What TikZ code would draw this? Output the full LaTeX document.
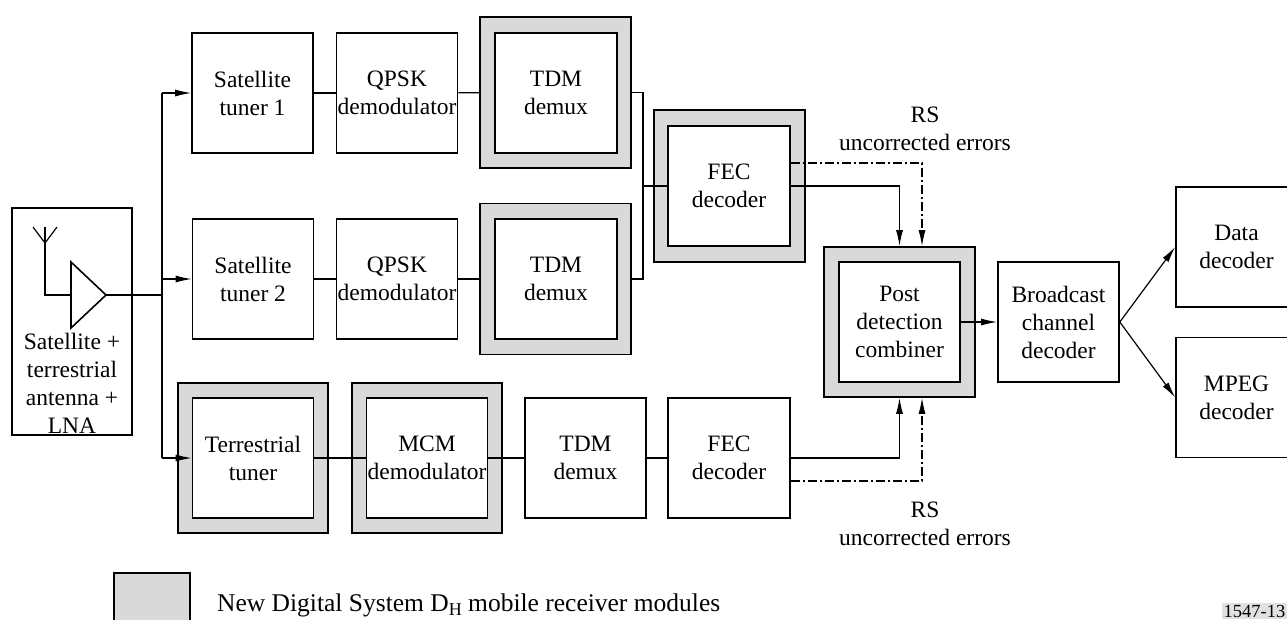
\documentclass[tikz,border=0pt]{standalone}
\usepackage{fontspec}
\setmainfont{Liberation Serif}
\usetikzlibrary{arrows.meta,calc}
\definecolor{modgray}{RGB}{217,217,217}
\definecolor{stampgray}{RGB}{225,225,225}
\tikzset{
  blk/.style={draw, line width=1.6pt, fill=white, minimum width=121pt, minimum height=120pt,
              inner sep=0pt, align=center, font=\fontsize{23.5}{28}\selectfont},
  modframe/.style={draw, line width=1.6pt, fill=modgray, minimum width=151pt, minimum height=151pt, inner sep=0pt},
  wire/.style={line width=1.2pt},
  tip/.style={-{Latex[length=16pt,width=7pt]}},
  arr/.style={wire, tip},
  dashdot/.style={wire, tip, dash pattern=on 9pt off 3pt on 2pt off 3pt},
  lbl/.style={align=center, font=\fontsize{23.5}{28}\selectfont, inner sep=0pt},
}
\begin{document}
\begin{tikzpicture}[x=1pt,y=-1pt]
\useasboundingbox (0,0) rectangle (1287,619);
\clip (0,0) rectangle (1287,619);

% antenna + LNA block
\node[draw, line width=1.6pt, minimum width=120pt, minimum height=227pt, inner sep=0pt] (lna) at (72,321.5) {};
\node[lbl] (lnatxt) at (72,383) {Satellite +\\terrestrial\\antenna +\\LNA};
\coordinate (antL) at (33,227);
\coordinate (antR) at (57,227);
\coordinate (antTop) at (45,227);
\coordinate (antJ) at (45,243);
\coordinate (antFoot) at (45,295);
\coordinate (ampIn) at (71,295);
\coordinate (ampOut) at (106,295);
\draw[wire] (antL) -- (antJ) -- (antR);
\draw[wire] (antTop) -- (antFoot) -- (ampIn);
\draw[line width=1.6pt, line join=miter] (71,262) -- (ampOut) -- (71,328) -- cycle;

% satellite branch 1
\node[blk] (st1) at (252.5,93) {Satellite\\tuner 1};
\node[blk] (qp1) at (397,93) {QPSK\\demodulator};
\node[modframe] (td1o) at (555.5,92.5) {};
\node[blk, minimum width=122pt] (td1) at (556,93) {TDM\\demux};

% satellite branch 2
\node[blk] (st2) at (253,279) {Satellite\\tuner 2};
\node[blk] (qp2) at (397,279) {QPSK\\demodulator};
\node[modframe] (td2o) at (555.5,279) {};
\node[blk, minimum width=122pt] (td2) at (556,279) {TDM\\demux};

% terrestrial branch
\node[modframe, minimum width=150pt, minimum height=150pt] (tto) at (253,458) {};
\node[blk] (tt) at (253,458) {Terrestrial\\tuner};
\node[modframe, minimum width=150pt, minimum height=150pt] (mcmo) at (427,458) {};
\node[blk] (mcm) at (427,458) {MCM\\demodulator};
\node[blk] (td3) at (585.5,458) {TDM\\demux};
\node[blk, minimum width=122pt] (fec2) at (729,458) {FEC\\decoder};

% satellite FEC decoder
\node[modframe, minimum height=152pt] (fec1o) at (729.5,186) {};
\node[blk, minimum width=122pt] (fec1) at (729,186) {FEC\\decoder};

% combiner and back end
\node[modframe, minimum height=150pt] (pdo) at (899.5,322) {};
\node[blk] (pd) at (899.5,322) {Post\\detection\\combiner};
\node[blk] (bcd) at (1058.5,322) {Broadcast\\channel\\decoder};
\node[blk] (data) at (1236.5,247) {Data\\decoder};
\node[blk] (mpeg) at (1236.5,397.5) {MPEG\\decoder};

% RF distribution bus
\coordinate (busT) at (162,93);
\coordinate (busM) at (162,279);
\coordinate (busA) at (162,295);
\coordinate (busB) at (162,458);
\draw[wire] (ampOut) -- (busA);
\draw[wire] (busT) -- (busB);
\draw[arr] (busT) -- (st1.west);
\draw[arr] (busM) -- (st2.west);
\draw[arr] (busB) -- (tt.west);

% satellite chains
\draw[wire] (st1) -- (qp1);
\draw[wire] (qp1) -- (td1o);
\draw[wire] (st2) -- (qp2);
\draw[wire] (qp2) -- (td2o);
\coordinate (tdbT) at (643,92.5);
\coordinate (tdbF) at (643,186);
\coordinate (tdbB) at (643,279);
\draw[wire] (td1o.east) -- (tdbT) -- (tdbB) -- (td2o.east);
\draw[wire] (tdbF) -- (fec1.west);

% terrestrial chain
\draw[wire] (tt.east) -- (mcm.west);
\draw[wire] (mcm.east) -- (td3.west);
\draw[wire] (td3) -- (fec2);

% decoder outputs into the combiner
\draw[arr] (fec1.east) -| (pdo.north);
\draw[dashdot] ([yshift=23pt]fec1.east) -| ([xshift=22.5pt]pdo.north);
\draw[arr] (fec2.east) -| (pdo.south);
\draw[dashdot] ([yshift=-23pt]fec2.east) -| ([xshift=22.5pt]pdo.south);
\node[lbl] (rsup) at (925,129) {RS\\uncorrected errors};
\node[lbl] (rsdn) at (925,524) {RS\\uncorrected errors};

\draw[arr] (pd.east) -- (bcd.west);
\draw[arr] (bcd.east) -- (data.west);
\draw[arr] (bcd.east) -- (mpeg.west);

% legend
\node[draw, line width=1.6pt, fill=modgray, minimum width=76pt, minimum height=80pt, anchor=north west, inner sep=0pt] (legbox) at (113,572) {};
\node[anchor=base west, inner sep=0pt, font=\fontsize{25.5}{30}\selectfont] (legtxt) at (217,611)
  {New Digital System D\raisebox{-0.4ex}{\fontsize{18}{18}\selectfont H} mobile receiver modules};
\node[anchor=south east, fill=stampgray, inner sep=1.5pt, font=\fontsize{18.5}{18.5}\selectfont] (stamp) at (1287,619) {1547-13};
\end{tikzpicture}
\end{document}
